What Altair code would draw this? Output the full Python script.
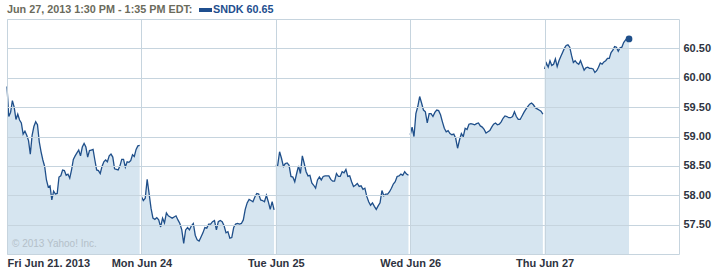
import json
import altair as alt
import pandas as pd

# ---------------- data ----------------
day_labels = ["Fri Jun 21, 2013", "Mon Jun 24", "Tue Jun 25", "Wed Jun 26", "Thu Jun 27"]
day_index = [0, 1, 2, 3, 4]
# minutes after the open of the last sample of each session (Thu stops at 1:35 PM)
day_last_minute = [385, 385, 385, 385, 245]

fri = [59.85, 59.34, 59.41, 59.61, 59.50, 59.29, 59.38, 59.28, 59.23, 59.04,
       59.09, 59.02, 58.93, 58.70, 59.02, 59.17, 59.25, 59.20, 58.91, 58.74,
       58.60, 58.49, 58.26, 58.14, 58.16, 57.92, 58.07, 58.02, 58.03, 58.31,
       58.33, 58.43, 58.42, 58.34, 58.36, 58.29, 58.43, 58.61, 58.67, 58.72,
       58.77, 58.67, 58.82, 58.88, 58.82, 58.65, 58.76, 58.77, 58.78, 58.60,
       58.43, 58.42, 58.37, 58.49, 58.57, 58.60, 58.57, 58.67, 58.70, 58.65,
       58.45, 58.44, 58.43, 58.50, 58.61, 58.61, 58.48, 58.57, 58.56, 58.59,
       58.69, 58.66, 58.78, 58.84, 58.85]
mon = [57.98, 57.91, 57.95, 58.27, 58.03, 57.78, 57.61, 57.59, 57.62, 57.58,
       57.46, 57.61, 57.53, 57.70, 57.65, 57.63, 57.61, 57.63, 57.65, 57.58,
       57.52, 57.41, 57.18, 57.41, 57.45, 57.41, 57.48, 57.52, 57.32, 57.24,
       57.22, 57.29, 57.36, 57.45, 57.44, 57.51, 57.51, 57.55, 57.57, 57.41,
       57.55, 57.57, 57.55, 57.48, 57.36, 57.38, 57.27, 57.28, 57.45, 57.51,
       57.52, 57.51, 57.52, 57.58, 57.76, 57.87, 57.93, 57.91, 57.89, 57.97,
       58.03, 58.02, 57.92, 57.91, 57.89, 58.00, 57.89, 57.76, 57.89, 57.75]
tue = [58.51, 58.51, 58.74, 58.63, 58.49, 58.54, 58.55, 58.51, 58.32, 58.31,
       58.23, 58.37, 58.50, 58.37, 58.67, 58.54, 58.40, 58.33, 58.34, 58.21,
       58.17, 58.12, 58.26, 58.31, 58.26, 58.32, 58.33, 58.33, 58.33, 58.27,
       58.24, 58.24, 58.37, 58.32, 58.32, 58.40, 58.38, 58.44, 58.32, 58.33,
       58.23, 58.15, 58.17, 58.20, 58.15, 58.16, 58.10, 58.12, 57.98, 57.89,
       57.83, 57.87, 57.81, 57.76, 57.82, 57.87, 58.08, 57.99, 58.02, 58.02,
       58.06, 58.12, 58.19, 58.23, 58.32, 58.33, 58.36, 58.34, 58.40, 58.36,
       58.34]
wed = [59.03, 59.16, 59.00, 59.39, 59.51, 59.68, 59.57, 59.45, 59.42, 59.23,
       59.39, 59.39, 59.34, 59.41, 59.45, 59.44, 59.37, 59.25, 59.14, 59.08,
       59.10, 59.05, 59.03, 59.04, 58.97, 58.80, 58.94, 59.05, 59.00, 59.14,
       59.12, 59.21, 59.22, 59.21, 59.20, 59.22, 59.23, 59.18, 59.16, 59.12,
       59.06, 59.08, 59.10, 59.16, 59.21, 59.23, 59.20, 59.21, 59.25, 59.31,
       59.35, 59.34, 59.32, 59.32, 59.34, 59.42, 59.34, 59.29, 59.29, 59.35,
       59.41, 59.46, 59.51, 59.55, 59.57, 59.54, 59.49, 59.47, 59.45, 59.43,
       59.38]
thu = [60.15, 60.25, 60.18, 60.29, 60.21, 60.23, 60.32, 60.19, 60.29, 60.36,
       60.43, 60.50, 60.55, 60.56, 60.52, 60.38, 60.26, 60.29, 60.25, 60.23,
       60.29, 60.21, 60.13, 60.17, 60.18, 60.16, 60.16, 60.15, 60.09, 60.12,
       60.18, 60.25, 60.23, 60.27, 60.29, 60.33, 60.33, 60.43, 60.47, 60.53,
       60.52, 60.45, 60.51, 60.52, 60.60, 60.64, 60.68, 60.66]

y_ticks = [57.5, 58.0, 58.5, 59.0, 59.5, 60.0, 60.5]
header_time = ["Jun 27, 2013 1:30 PM - 1:35 PM EDT:"]
ticker_label = ["SNDK 60.65"]
copyright_text = ["\u00a9 2013 Yahoo! Inc."]

# ---------------- table ----------------
rows = []
for d, vals in enumerate([fri, mon, tue, wed, thu]):
    n = len(vals)
    for i, v in enumerate(vals):
        minute = i * day_last_minute[d] / (n - 1)
        rows.append({"day": d, "t": d + minute / 390.0, "price": v,
                     "last": (d == 4 and i == n - 1)})
df = pd.DataFrame(rows)

# ---------------- style ----------------
FONT = "Liberation Sans"
GRID = "#c6d4de"
LINE = "#1f4f8a"
FILL = "#d6e5f0"
LABEL = "#2e3340"

labels_js = json.dumps(day_labels)
x_enc = alt.X("t:Q",
              scale=alt.Scale(domain=[0, 5], nice=False, zero=False),
              axis=alt.Axis(values=day_index, tickCount=len(day_index) + 2,
                            labelExpr=f"{labels_js}[datum.value]",
                            grid=True, gridColor=GRID, ticks=False, domain=False,
                            labelFlush=True, labelOverlap=False, labelPadding=3,
                            labelFont=FONT, labelFontSize=11, labelFontWeight="bold",
                            labelColor=LABEL, title=None, zindex=1))
y_enc = alt.Y("price:Q",
              scale=alt.Scale(domain=[57, 61], nice=False, zero=False),
              axis=alt.Axis(orient="right", values=y_ticks, tickCount=len(y_ticks) + 2,
                            format=".2f",
                            grid=True, gridColor=GRID, ticks=False, domain=False,
                            labelOverlap=False, labelBound=False,
                            labelPadding=4, labelFont=FONT, labelFontSize=11,
                            labelFontWeight="bold", labelColor=LABEL,
                            title=None, zindex=1))

base = alt.Chart(df)
area = base.mark_area(color=FILL, opacity=1).encode(
    x=x_enc, y=y_enc, y2=alt.datum(57), detail="day:N")
line = base.mark_line(color=LINE, strokeWidth=1.3).encode(
    x="t:Q", y="price:Q", detail="day:N")
dot = base.transform_filter("datum.last").mark_point(
    filled=True, color=LINE, size=45, opacity=1).encode(x="t:Q", y="price:Q")

header = alt.Chart(pd.DataFrame({"txt": header_time})).mark_text(
    align="left", baseline="middle", font=FONT, fontSize=10.8,
    fontWeight="bold", color="#6b6b5c").encode(
    x=alt.value(0), y=alt.value(-9), text="txt:N")
swatch = alt.Chart(pd.DataFrame({"txt": ticker_label})).mark_rect(color="#1f4f8f").encode(
    x=alt.value(192), x2=alt.value(205), y=alt.value(-11), y2=alt.value(-7))
ticker = alt.Chart(pd.DataFrame({"txt": ticker_label})).mark_text(
    align="left", baseline="middle", font=FONT, fontSize=10.8,
    fontWeight="bold", color="#1f4f8f").encode(
    x=alt.value(206), y=alt.value(-9), text="txt:N")
copyright_mark = alt.Chart(pd.DataFrame({"txt": copyright_text})).mark_text(
    align="left", baseline="middle", font=FONT, fontSize=10,
    color="#b4c0c9").encode(x=alt.value(5), y=alt.value(225), text="txt:N")

chart = alt.layer(area, line, dot, copyright_mark, header, swatch, ticker).properties(
    width=672, height=235,
    padding={"left": 7, "top": 19, "right": 42, "bottom": 13},
    autosize=alt.AutoSizeParams(type="none"),
    background="white",
).configure_view(stroke=GRID, strokeWidth=1)

chart.save("out.html", embed_options={"renderer": "svg", "actions": False})
